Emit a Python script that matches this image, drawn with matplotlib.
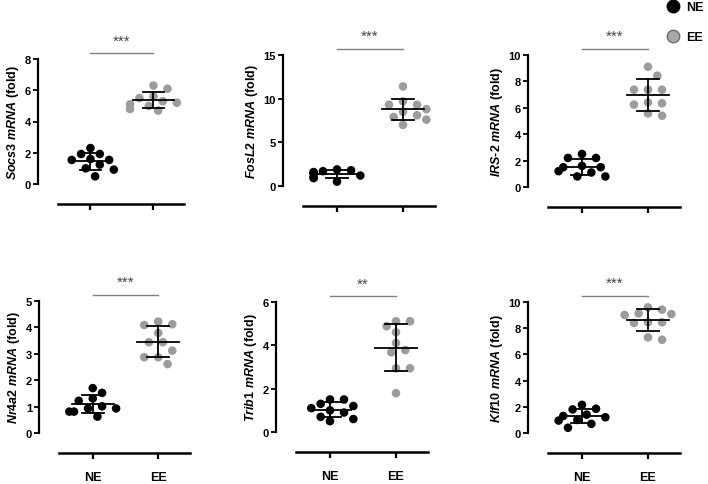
import numpy as np
import matplotlib
matplotlib.use("Agg")
import matplotlib.pyplot as plt
from matplotlib.lines import Line2D

plt.rcParams['font.family'] = ['Liberation Sans', 'DejaVu Sans']
plt.rcParams['mathtext.fontset'] = 'custom'
plt.rcParams['mathtext.rm'] = 'Liberation Sans:bold'
plt.rcParams['mathtext.it'] = 'Liberation Sans:italic:bold'

groups = ['NE', 'EE']
genes = ['Socs3', 'FosL2', 'IRS-2', 'Nr4a2', 'Trib1', 'Klf10']
stars = ['***', '***', '***', '***', '**', '***']
ymax = [8, 15, 10, 5, 6, 10]
ystep = [2, 5, 2, 1, 2, 2]

# valores (fold)
socs3_ne = [2.30, 1.92, 1.92, 1.60, 1.54, 1.54, 1.24, 1.00, 0.92, 0.49]
socs3_ee = [6.3, 6.1, 5.6, 5.5, 5.3, 5.2, 5.1, 5.0, 4.8, 4.7]
fosl2_ne = [1.9, 1.8, 1.7, 1.6, 1.5, 1.4, 1.2, 1.0, 0.9, 0.5]
fosl2_ee = [11.4, 9.7, 9.3, 9.3, 8.8, 8.5, 8.1, 7.9, 7.6, 7.0]
irs2_ne = [2.5, 2.2, 2.2, 1.6, 1.5, 1.5, 1.2, 1.1, 0.8, 0.8]
irs2_ee = [9.11, 8.43, 7.37, 7.37, 7.37, 6.41, 6.34, 6.24, 5.58, 5.40]
nr4a2_ne = [1.70, 1.52, 1.31, 1.22, 1.01, 0.93, 0.93, 0.81, 0.81, 0.62]
nr4a2_ee = [4.22, 4.12, 4.09, 3.79, 3.44, 3.44, 3.12, 2.87, 2.87, 2.61]
trib1_ne = [1.5, 1.5, 1.3, 1.2, 1.1, 1.0, 0.9, 0.7, 0.6, 0.5]
trib1_ee = [5.11, 5.11, 4.88, 4.60, 4.11, 3.78, 3.68, 2.94, 2.94, 1.79]
klf10_ne = [2.15, 1.85, 1.8, 1.4, 1.3, 1.2, 1.0, 0.95, 0.7, 0.4]
klf10_ee = [9.59, 9.42, 9.13, 9.08, 9.01, 8.45, 8.45, 8.40, 7.30, 7.12]

dados = [(socs3_ne, socs3_ee), (fosl2_ne, fosl2_ee), (irs2_ne, irs2_ee),
         (nr4a2_ne, nr4a2_ee), (trib1_ne, trib1_ee), (klf10_ne, klf10_ee)]

# caixas dos eixos em pixels: esquerda, topo, largura, altura
caixas = [(58, 60, 126, 125), (303, 56, 132, 131), (548, 56, 132, 132),
          (59, 302, 131, 132), (296, 303, 132, 130), (548, 303, 132, 131)]

W, H = 708, 485
cor = {'NE': 'black', 'EE': '#9c9c9c'}
d_px = 8.5  # diametro do ponto em px


def swarm(vals, px_por_y, px_por_x):
    # espalha os pontos na horizontal para nao se sobreporem
    ys = np.array(vals) * px_por_y
    ordem = np.argsort(-ys)
    xs = np.zeros(len(vals))
    colocados = []
    for i in ordem:
        for k in [0, 1, -1, 2, -2, 3, -3, 4, -4, 5, -5]:
            x = k * d_px * 0.55
            if all((x - xx) ** 2 + (ys[i] - yy) ** 2 >= (d_px * 1.2) ** 2 for xx, yy in colocados):
                break
        xs[i] = x
        colocados.append((x, ys[i]))
    return xs / px_por_x


fig = plt.figure(figsize=(W / 100, H / 100), dpi=100)

for n, (gene, (ne, ee)) in enumerate(zip(genes, dados)):
    l, t, w, h = caixas[n]
    ax = fig.add_axes([l / W, (H - t - h) / H, w / W, h / H])
    ax.set_xlim(-0.515, 1.485)
    ax.set_ylim(0, ymax[n])
    px_x = w / 2.0
    px_y = h / ymax[n]
    for j, (g, v) in enumerate(zip(groups, [ne, ee])):
        v = np.array(v)
        xo = swarm(v, px_y, px_x)
        ax.scatter(j + xo, v, s=38, color=cor[g], edgecolors='none', zorder=2, clip_on=False)
        m = v.mean()
        sd = v.std(ddof=1)
        ax.plot([j - 0.32, j + 0.32], [m, m], color='black', lw=1.3, zorder=3)
        ax.plot([j, j], [m - sd, m + sd], color='black', lw=1.3, zorder=3)
        ax.plot([j - 0.17, j + 0.17], [m + sd, m + sd], color='black', lw=1.3, zorder=3)
        ax.plot([j - 0.17, j + 0.17], [m - sd, m - sd], color='black', lw=1.3, zorder=3)

    # linha de significancia
    ax.plot([0, 1], [1.045, 1.045], color='#808080', lw=1, transform=ax.get_xaxis_transform(), clip_on=False)
    ax.text(0.5, 1.09, stars[n], transform=ax.get_xaxis_transform(), ha='center', va='bottom',
            fontsize=11, color='#444444')

    for s in ['top', 'right']:
        ax.spines[s].set_visible(False)
    ax.spines['left'].set_position(('outward', 14.4))
    ax.spines['bottom'].set_position(('outward', 14.4))
    ax.spines['left'].set_linewidth(1.6)
    ax.spines['bottom'].set_linewidth(1.8)
    ax.set_yticks(np.arange(0, ymax[n] + 0.1, ystep[n]))
    ax.set_xticks([0, 1])
    ax.tick_params(axis='y', length=3.5, width=1.3, labelsize=8, pad=1.5)
    ax.tick_params(axis='x', length=4, width=1.6, labelsize=9, pad=9)
    for lb in ax.get_yticklabels():
        lb.set_fontweight('bold')
    if n >= 3:
        ax.set_xticklabels(groups, fontweight='bold')
    else:
        ax.set_xticklabels([])
    ax.set_ylabel(r'$\it{' + gene.replace('-', '\\text{-}') + r'\ mRNA}$ (fold)', fontsize=9,
                  fontweight='bold', labelpad=3)

handles = [Line2D([], [], ls='none', marker='o', ms=9, mfc='black', mec='black'),
           Line2D([], [], ls='none', marker='o', ms=9, mfc='#a8a8a8', mec='#6e6e6e')]
fig.legend(handles, groups, loc='upper left', bbox_to_anchor=(664 / W, 1.0), frameon=False,
           prop={'weight': 'bold', 'size': 9}, labelspacing=1.45, handletextpad=0.4,
           borderaxespad=0, borderpad=0.15, handlelength=1.2)

fig.savefig('out.png', dpi=100)
